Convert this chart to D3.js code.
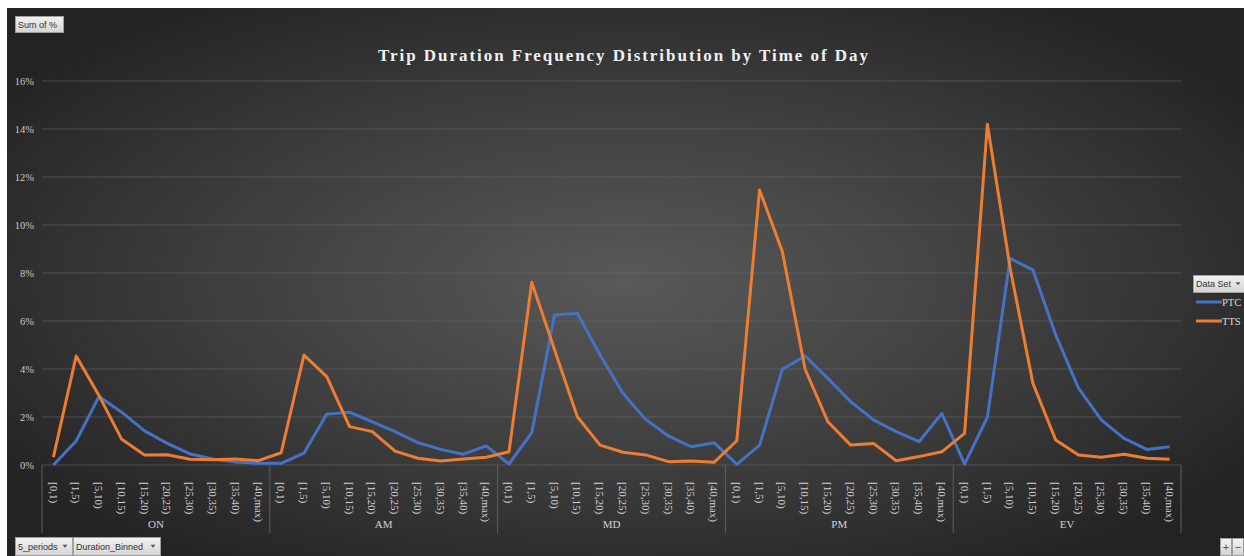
<!DOCTYPE html>
<html>
<head>
<meta charset="utf-8">
<script src="https://cdn.jsdelivr.net/npm/d3@7"></script>
<style>
  html, body { margin: 0; padding: 0; background: #ffffff; }
  svg { display: block; }
</style>
</head>
<body>
<svg id="chart" width="1244" height="556"></svg>
<script>
// Time-of-day periods and duration bins (minutes)
const periods = ["ON", "AM", "MD", "PM", "EV"];
const bins = ["[0,1)", "[1,5)", "[5,10)", "[10,15)", "[15,20)", "[20,25)", "[25,30)", "[30,35)", "[35,40)", "[40,max)"];

// Sum of % per period, one row of ten bins per period
const ptc = [
  [0.00, 1.00, 2.85, 2.20, 1.42, 0.90, 0.46, 0.25, 0.12, 0.07],
  [0.07, 0.49, 2.12, 2.20, 1.80, 1.39, 0.93, 0.65, 0.45, 0.80],
  [0.04, 1.35, 6.25, 6.32, 4.58, 2.99, 1.90, 1.21, 0.76, 0.93],
  [0.03, 0.83, 3.99, 4.54, 3.61, 2.64, 1.88, 1.39, 0.97, 2.15],
  [0.04, 1.99, 8.61, 8.13, 5.42, 3.20, 1.88, 1.11, 0.65, 0.76]
];
const tts = [
  [0.33, 4.54, 2.90, 1.07, 0.42, 0.43, 0.24, 0.22, 0.25, 0.18],
  [0.51, 4.58, 3.68, 1.60, 1.39, 0.58, 0.28, 0.17, 0.25, 0.32],
  [0.55, 7.61, 4.80, 2.01, 0.83, 0.53, 0.42, 0.14, 0.17, 0.11],
  [1.01, 11.46, 8.89, 3.99, 1.80, 0.83, 0.90, 0.18, 0.35, 0.55],
  [1.32, 14.20, 8.20, 3.40, 1.04, 0.42, 0.32, 0.45, 0.28, 0.24]
];

const yTicks = [0, 2, 4, 6, 8, 10, 12, 14, 16];
const seriesNames = ["PTC", "TTS"];
const seriesColors = ["#4472c4", "#ed7d31"];

const svg = d3.select("#chart");
const W = 1244, H = 556;
const frame = { x: 7, y: 8 };
const plot = { left: 42, right: 1181, top: 81, bottom: 465 };

// Background with soft radial lighting
const defs = svg.append("defs");
const rg = defs.append("radialGradient").attr("id", "bg")
  .attr("cx", "50%").attr("cy", "50%").attr("r", "62%");
rg.append("stop").attr("offset", "0%").attr("stop-color", "#595959");
rg.append("stop").attr("offset", "55%").attr("stop-color", "#3d3d3d");
rg.append("stop").attr("offset", "100%").attr("stop-color", "#232323");
svg.append("rect").attr("x", frame.x).attr("y", frame.y)
  .attr("width", W - frame.x).attr("height", H - frame.y).attr("fill", "url(#bg)");

const btnGrad = defs.append("linearGradient").attr("id", "btn").attr("x1", 0).attr("y1", 0).attr("x2", 0).attr("y2", 1);
btnGrad.append("stop").attr("offset", "0%").attr("stop-color", "#f2f2f2");
btnGrad.append("stop").attr("offset", "100%").attr("stop-color", "#d4d4d4");

// Flatten to one point per (period, bin)
const keys = [];
periods.forEach(p => bins.forEach(b => keys.push(p + "|" + b)));
const series = [ptc, tts].map((rows, si) => ({
  name: seriesNames[si],
  color: seriesColors[si],
  values: rows.flatMap((row, pi) => row.map((v, bi) => ({ key: periods[pi] + "|" + bins[bi], v })))
}));

const x = d3.scaleBand().domain(keys).range([plot.left, plot.right]).padding(0);
const y = d3.scaleLinear().domain([0, 16]).range([plot.bottom, plot.top]);

// Horizontal gridlines
svg.append("g").selectAll("line").data(yTicks).join("line")
  .attr("x1", plot.left).attr("x2", plot.right)
  .attr("y1", d => y(d)).attr("y2", d => y(d))
  .attr("stroke", "#6a6a6a").attr("stroke-opacity", 0.55).attr("stroke-width", 1);

// Y axis labels
const yAxis = d3.axisLeft(y).tickValues(yTicks).tickFormat(d => d + "%").tickSize(0).tickPadding(8);
const yg = svg.append("g").attr("transform", `translate(${plot.left},0)`).call(yAxis);
yg.select(".domain").remove();
yg.selectAll("text").attr("fill", "#c8c8c8").style("font-family", "'Liberation Serif', 'DejaVu Serif', serif").style("font-size", "10.5px");

// Group separators under the axis
const groupW = (plot.right - plot.left) / periods.length;
const sepX = d3.range(periods.length + 1).map(i => plot.left + i * groupW);
svg.append("g").selectAll("line").data(sepX).join("line")
  .attr("x1", d => d).attr("x2", d => d)
  .attr("y1", plot.bottom).attr("y2", 533)
  .attr("stroke", "#5e5e5e").attr("stroke-width", 1);

// Bin labels, rotated
const xAxis = d3.axisBottom(x).tickSize(0).tickFormat(k => k.split("|")[1]);
const xg = svg.append("g").attr("transform", `translate(0,${plot.bottom})`).call(xAxis);
xg.select(".domain").remove();
xg.selectAll("text")
  .attr("transform", "rotate(90)")
  .attr("x", 17).attr("y", 0).attr("dy", "0.35em")
  .attr("text-anchor", "start")
  .attr("fill", "#d0d0d0")
  .style("font-family", "'Liberation Serif', 'DejaVu Serif', serif").style("font-size", "11px");

// Period labels
svg.append("g").selectAll("text").data(periods).join("text")
  .attr("x", (d, i) => plot.left + (i + 0.5) * groupW)
  .attr("y", 528)
  .attr("text-anchor", "middle")
  .attr("fill", "#d0d0d0")
  .style("font-family", "'Liberation Serif', 'DejaVu Serif', serif").style("font-size", "11px")
  .text(d => d);

// Series lines
const line = d3.line().x(d => x(d.key) + x.bandwidth() / 2).y(d => y(d.v));
svg.append("g").selectAll("path").data(series).join("path")
  .attr("d", d => line(d.values))
  .attr("fill", "none")
  .attr("stroke", d => d.color)
  .attr("stroke-width", 3)
  .attr("stroke-linejoin", "round");

// Title
svg.append("text")
  .attr("x", 623).attr("y", 61)
  .attr("text-anchor", "middle")
  .attr("fill", "#f0f0f0")
  .attr("textLength", 490).attr("lengthAdjust", "spacing")
  .style("font-family", "'Liberation Serif', 'DejaVu Serif', serif")
  .style("font-weight", "bold").style("font-size", "17px")
  .text("Trip Duration Frequency Distribution by Time of Day");

// Field buttons
function button(bx, by, bw, bh, label, arrow) {
  const g = svg.append("g");
  g.append("rect").attr("x", bx + 0.5).attr("y", by + 0.5).attr("width", bw).attr("height", bh)
    .attr("fill", "url(#btn)").attr("stroke", "#a0a0a0");
  g.append("text").attr("x", bx + 3).attr("y", by + bh / 2 + 0.5).attr("dy", "0.35em")
    .attr("fill", "#333").style("font-family", "'Liberation Sans', Arial, sans-serif").style("font-size", "9px")
    .text(label);
  if (arrow) {
    const ax = bx + bw - 7, ay = by + bh / 2;
    g.append("path").attr("d", `M${ax - 2.5},${ay - 1.2}L${ax + 2.5},${ay - 1.2}L${ax},${ay + 1.8}Z`).attr("fill", "#555");
  }
  return g;
}
button(15, 16, 48, 16, "Sum of %", false);
button(15, 537, 57, 18, "5_periods", true);
button(73, 537, 87, 18, "Duration_Binned", true);
button(1193, 275, 52, 17, "Data Set", true);

// Zoom buttons
[["+", 1220], ["\u2212", 1232]].forEach(([s, bx]) => {
  svg.append("rect").attr("x", bx + 0.5).attr("y", 538.5).attr("width", 11).attr("height", 17)
    .attr("fill", "url(#btn)").attr("stroke", "#a0a0a0");
  svg.append("text").attr("x", bx + 6).attr("y", 547).attr("dy", "0.35em").attr("text-anchor", "middle")
    .attr("fill", "#555").style("font-family", "'Liberation Sans', Arial, sans-serif").style("font-size", "11px").text(s);
});

// Legend
const lg = svg.append("g").selectAll("g").data(series).join("g")
  .attr("transform", (d, i) => `translate(1196,${302 + i * 19})`);
lg.append("line").attr("x1", 0).attr("x2", 26).attr("y1", 0).attr("y2", 0)
  .attr("stroke", d => d.color).attr("stroke-width", 3);
lg.append("text").attr("x", 26).attr("y", 0).attr("dy", "0.35em")
  .attr("fill", "#d8d8d8")
  .style("font-family", "'Liberation Serif', 'DejaVu Serif', serif").style("font-size", "10.5px")
  .text(d => d.name);
</script>
</body>
</html>
